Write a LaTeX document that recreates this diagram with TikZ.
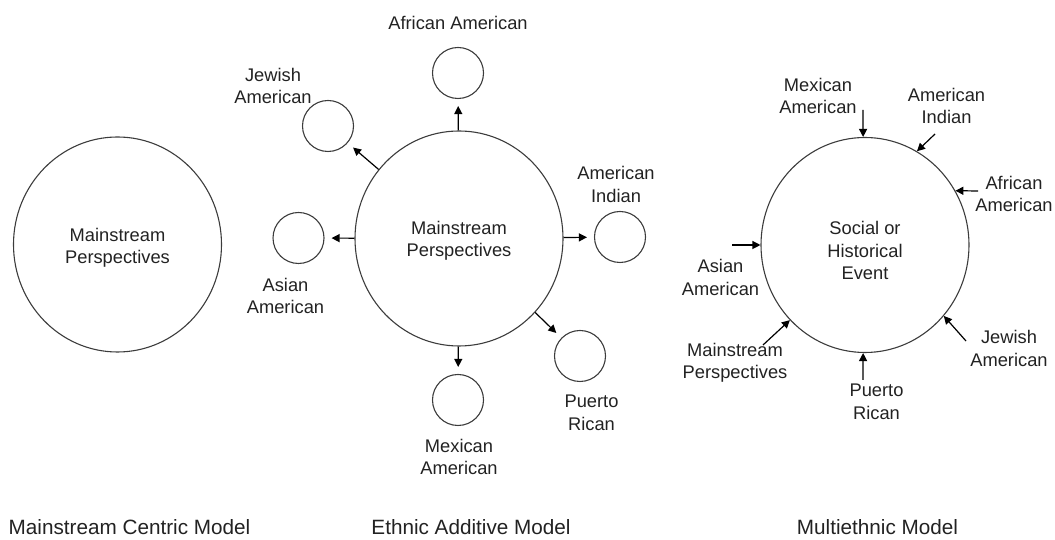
\documentclass[tikz,border=0pt]{standalone}
\usepackage{fontspec}
\setmainfont{Liberation Sans}
\usetikzlibrary{arrows.meta,shapes.geometric}
\definecolor{ModelInk}{HTML}{222222}
\definecolor{ModelLine}{HTML}{3C3C3C}

\begin{document}
\begin{tikzpicture}[x=1pt,y=1pt,
  lbl/.style={text=ModelInk,align=center,font=\fontsize{18.3}{22.5}\selectfont,inner sep=0pt},
  ttl/.style={text=ModelInk,anchor=base,font=\fontsize{20.7}{24}\selectfont,inner sep=0pt},
  bigring/.style={ellipse,draw=ModelLine,line width=1.1pt,minimum width=208pt,minimum height=215pt,inner sep=0pt},
  ring/.style={circle,draw=ModelLine,line width=1.1pt,minimum size=51pt,inner sep=0pt},
  arr/.style={-{Triangle[length=8pt,width=8pt]},line width=1.2pt,black}]
  \useasboundingbox (0,0) rectangle (1055,540);

  % mainstream centric model
  \node[bigring] (mainC) at (117.5,295.5) {};
  \node[lbl] (mainCtxt) at (117.5,292) {Mainstream\\Perspectives};
  \node[ttl] (ttlC) at (129.5,5) {Mainstream Centric Model};

  % ethnic additive model
  \node[bigring] (mainE) at (459,301.5) {};
  \node[lbl] (mainEtxt) at (459,299) {Mainstream\\Perspectives};
  \foreach \name/\x/\y/\lx/\ly/\txt in {
    afr/458/467/458/517/{African American},
    jew/328/414/273/454/{Jewish\\American},
    asi/298.5/302/285.5/244/{Asian\\American},
    ind/620/303/616/355.5/{American\\Indian},
    pue/580/184/591.5/127/{Puerto\\Rican},
    mex/458/140/459/83/{Mexican\\American}}
  {
    \node[ring] (\name) at (\x,\y) {};
    \node[lbl] (\name-lbl) at (\lx,\ly) {\txt};
    \draw[arr,shorten >=7pt] (mainE) -- (\name);
  }
  \node[ttl] (ttlE) at (471,5) {Ethnic Additive Model};

  % multiethnic model
  \node[bigring] (soc) at (865,295) {};
  \node[lbl] (soctxt) at (865,289.5) {Social or\\Historical\\Event};
  \foreach \name/\x/\y/\ang/\lx/\ly/\txt in {
    mexM/863/430/91/818/444/{Mexican\\American},
    indM/935/406/61/946.5/434/{American\\Indian},
    afrM/978/349/31/1014/346/{African\\American},
    asiM/732/295/180/720.5/262.5/{Asian\\American},
    maiM/763/195/225/735/177/{Mainstream\\Perspectives},
    pueM/863/160/269/876.5/138/{Puerto\\Rican},
    jewM/966/199/-42/1009/191.5/{Jewish\\American}}
  {
    \coordinate (\name) at (\x,\y);
    \node[lbl] (\name-lbl) at (\lx,\ly) {\txt};
    \draw[arr] (\name) -- (soc.\ang);
  }
  \node[ttl] (ttlM) at (877.5,5) {Multiethnic Model};
\end{tikzpicture}
\end{document}
